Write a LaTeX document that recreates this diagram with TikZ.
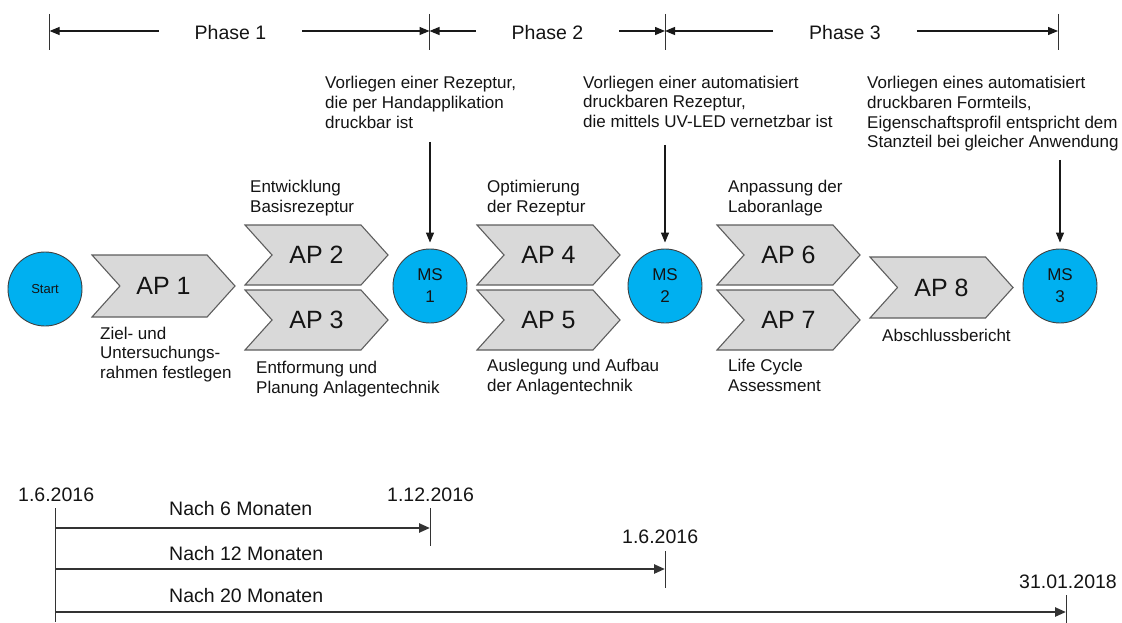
\documentclass[tikz,border=0pt]{standalone}
\usepackage{fontspec}
\setmainfont{Liberation Sans}
\usetikzlibrary{shapes.symbols,arrows.meta}
\definecolor{msblue}{HTML}{00B0F0}
\definecolor{chevfill}{HTML}{D9D9D9}
\definecolor{chevline}{HTML}{5E5E5E}
\definecolor{circline}{HTML}{404040}
\definecolor{txt}{HTML}{141414}
\begin{document}
\begin{tikzpicture}[x=1pt,y=-1pt,
  apbox/.style={shape=signal, signal from=west, signal to=east, signal pointer angle=96,
    draw=chevline, line width=1.1pt, fill=chevfill, minimum width=143pt, minimum height=60pt,
    inner sep=0pt, text=txt, font=\fontsize{25}{30}\selectfont},
  msnode/.style={circle, draw=circline, line width=0.9pt, fill=msblue, minimum size=74pt,
    inner sep=0pt, align=center, text=txt, font=\fontsize{17}{22}\selectfont},
  desc/.style={anchor=north west, align=left, inner sep=0pt, text=txt,
    font=\fontsize{17}{19.8}\selectfont, execute at begin node=\strut},
  phaselbl/.style={anchor=base, inner xsep=36pt, inner ysep=0pt, text=txt, font=\fontsize{19.5}{23}\selectfont},
  datelbl/.style={anchor=base west, inner sep=0pt, text=txt, font=\fontsize{19.5}{23}\selectfont},
  phasearrow/.style={line width=1.2pt, draw=black!90, -{Triangle[length=10pt,width=8pt]}},
  msarrow/.style={line width=1.2pt, draw=black!90, -{Triangle[length=10pt,width=8pt]}, shorten >=6pt},
  timearrow/.style={line width=2.4pt, draw=black!80, -{Triangle[length=11pt,width=9pt]}},
  tickline/.style={line width=1pt, draw=black!80}
]
\useasboundingbox[fill=white] (0,0) rectangle (1122,623);

% ---------- Phase bar ----------
\coordinate (t0) at (49.6,31);
\coordinate (t1) at (429.5,31);
\coordinate (t2) at (665,31);
\coordinate (t3) at (1058,31);
\foreach \t in {t0,t1,t2,t3} \draw[tickline] (\t) ++(0,-17) -- ++(0,36);
\node[phaselbl] (p1) at (230.5,39.5) {Phase 1};
\node[phaselbl] (p2) at (547.5,39.5) {Phase 2};
\node[phaselbl] (p3) at (845,39.5) {Phase 3};
\draw[phasearrow] (p1.west |- t0) -- (t0);
\draw[phasearrow] (p1.east |- t1) -- (t1);
\draw[phasearrow] (p2.west |- t1) -- (t1);
\draw[phasearrow] (p2.east |- t2) -- (t2);
\draw[phasearrow] (p3.west |- t2) -- (t2);
\draw[phasearrow] (p3.east |- t3) -- (t3);

% ---------- Milestone texts ----------
\node[desc] (m1txt) at (325,76) {Vorliegen einer Rezeptur,\\die per Handapplikation\\druckbar ist};
\node[desc] (m2txt) at (583,75.5) {Vorliegen einer automatisiert\\druckbaren Rezeptur,\\die mittels UV-LED vernetzbar ist};
\node[desc] (m3txt) at (867,76) {Vorliegen eines automatisiert\\druckbaren Formteils,\\Eigenschaftsprofil entspricht dem\\Stanzteil bei gleicher Anwendung};

% ---------- Circles ----------
\node[msnode, font=\fontsize{13}{16}\selectfont] (start) at (45,289) {Start};
\node[msnode] (ms1) at (430,286) {MS\\1};
\node[msnode] (ms2) at (665,286) {MS\\2};
\node[msnode] (ms3) at (1060,286) {MS\\3};

\coordinate (a1) at (430,142);
\coordinate (a2) at (665,145);
\coordinate (a3) at (1060,160);
\draw[msarrow] (a1) -- (ms1);
\draw[msarrow] (a2) -- (ms2);
\draw[msarrow] (a3) -- (ms3);

% ---------- Work packages ----------
\node[apbox, minimum height=62pt] (ap1) at (163.5,286) {AP 1};
\node[apbox] (ap2) at (316.5,255) {AP 2};
\node[apbox] (ap3) at (316.5,320) {AP 3};
\node[apbox] (ap4) at (548.5,255) {AP 4};
\node[apbox] (ap5) at (548.5,320) {AP 5};
\node[apbox] (ap6) at (788.5,255) {AP 6};
\node[apbox] (ap7) at (788.5,320) {AP 7};
\node[apbox, minimum height=61pt] (ap8) at (941.5,287.5) {AP 8};

% ---------- Work package descriptions ----------
\node[desc] (d2) at (250,180) {Entwicklung\\Basisrezeptur};
\node[desc] (d4) at (487,180) {Optimierung\\der Rezeptur};
\node[desc] (d6) at (728,180) {Anpassung der\\Laboranlage};
\node[desc] (d1) at (100,326.5) {Ziel- und\\Untersuchungs-\\rahmen festlegen};
\node[desc] (d3) at (256,361) {Entformung und\\Planung Anlagentechnik};
\node[desc] (d5) at (487,359) {Auslegung und Aufbau\\der Anlagentechnik};
\node[desc] (d7) at (728,359) {Life Cycle\\Assessment};
\node[desc] (d8) at (882,327.5) {Abschlussbericht};

% ---------- Timeline ----------
\coordinate (b0) at (55,508);
\coordinate (b0e) at (55,622);
\draw[tickline] (b0) -- (b0e);
\coordinate (s1) at (55,528);
\coordinate (e1) at (430,528);
\coordinate (s2) at (55,569);
\coordinate (e2) at (665,569);
\coordinate (s3) at (55,612);
\coordinate (e3) at (1066,612);
\draw[tickline] (430,508) -- (430,546);
\draw[tickline] (665,551) -- (665,588);
\draw[tickline] (1066,595) -- (1066,623);
\draw[timearrow] (s1) -- (e1);
\draw[timearrow] (s2) -- (e2);
\draw[timearrow] (s3) -- (e3);

\node[datelbl] (dt0) at (18,501) {1.6.2016};
\node[datelbl] (dt1) at (387,501) {1.12.2016};
\node[datelbl] (dt2) at (622,543) {1.6.2016};
\node[datelbl] (dt3) at (1019,588) {31.01.2018};
\node[datelbl] (n6) at (169,515) {Nach 6 Monaten};
\node[datelbl] (n12) at (169,560) {Nach 12 Monaten};
\node[datelbl] (n20) at (169,602) {Nach 20 Monaten};
\end{tikzpicture}
\end{document}
